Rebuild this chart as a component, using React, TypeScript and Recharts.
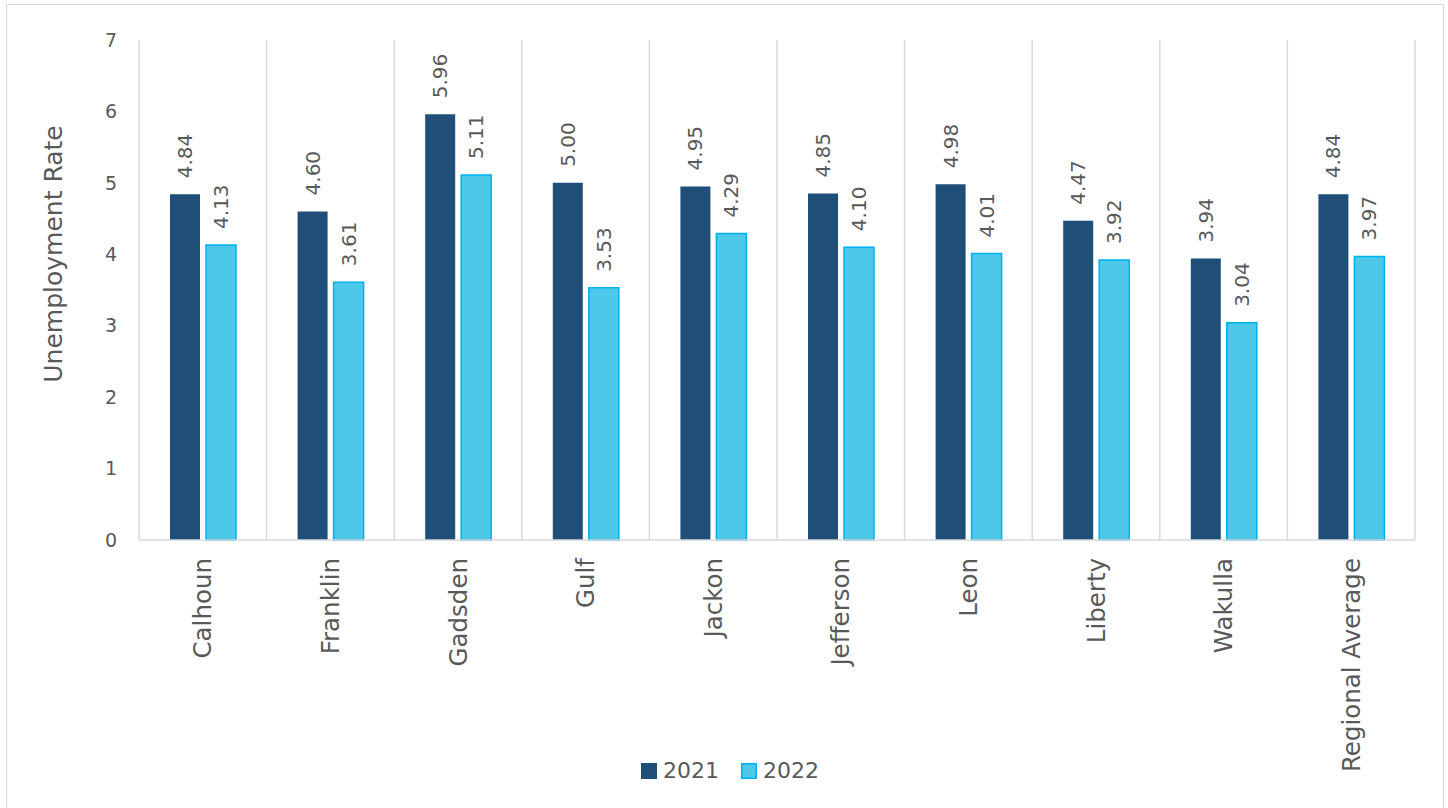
import React from "react";
import { BarChart, Bar, XAxis, YAxis, CartesianGrid, Legend, LabelList } from "recharts";

const categories = ["Calhoun", "Franklin", "Gadsden", "Gulf", "Jackon", "Jefferson", "Leon", "Liberty", "Wakulla", "Regional Average"];
const rate2021 = [4.84, 4.6, 5.96, 5.0, 4.95, 4.85, 4.98, 4.47, 3.94, 4.84];
const rate2022 = [4.13, 3.61, 5.11, 3.53, 4.29, 4.1, 4.01, 3.92, 3.04, 3.97];
const yTicks = [0, 1, 2, 3, 4, 5, 6, 7];

const data = categories.map((name, i) => ({ name, y2021: rate2021[i], y2022: rate2022[i] }));

const FONT = "'DejaVu Sans', sans-serif";
const TEXT = "#595959";
const GRID = "#D9D9D9";
const C2021 = "#1F4E79";
const C2022 = "#4DC8E8";
const C2022_EDGE = "#00B0F0";

const ValueLabel = (props: any) => {
  const { x, y, width, value } = props;
  const cx = Number(x) + Number(width) / 2;
  const ty = Number(y) - 16;
  return (
    <text
      x={cx}
      y={ty}
      transform={`rotate(-90, ${cx}, ${ty})`}
      textAnchor="start"
      dominantBaseline="central"
      fontFamily={FONT}
      fontSize={20}
      fill={TEXT}
    >
      {Number(value).toFixed(2)}
    </text>
  );
};

const CatTick = (props: any) => {
  const { x, y, payload } = props;
  const ty = Number(y) + 10;
  return (
    <text
      x={x}
      y={ty}
      transform={`rotate(-90, ${x}, ${ty})`}
      textAnchor="end"
      dominantBaseline="central"
      fontFamily={FONT}
      fontSize={24.5}
      fill={TEXT}
    >
      {payload.value}
    </text>
  );
};

const gridGen = (props: any) => {
  const off = props.offset;
  const n = categories.length;
  const pts: number[] = [];
  for (let i = 0; i <= n; i++) pts.push(off.left + (i * off.width) / n);
  return pts;
};

const LegendContent = (props: any) => {
  const items = props.payload || [];
  return (
    <div style={{ display: "flex", justifyContent: "center", alignItems: "center", gap: 22, fontFamily: FONT, fontSize: 22, color: TEXT }}>
      {items.map((it: any) => (
        <div key={it.value} style={{ display: "flex", alignItems: "center", gap: 6 }}>
          <svg width={16} height={16}>
            <rect
              x={0.75}
              y={0.75}
              width={14.5}
              height={14.5}
              fill={it.value === "2021" ? C2021 : C2022}
              stroke={it.value === "2021" ? C2021 : C2022_EDGE}
              strokeWidth={1.5}
            />
          </svg>
          <span>{it.value}</span>
        </div>
      ))}
    </div>
  );
};

export default function App() {
  return (
    <div style={{ position: "fixed", left: 0, top: 0, width: 1448, height: 808, background: "#fff", overflow: "hidden" }}>
      <div style={{ position: "absolute", left: 6, top: 4, width: 1436, height: 830, border: `1px solid ${GRID}` }} />
      <BarChart
        width={1448}
        height={808}
        data={data}
        margin={{ top: 40, right: 33, bottom: 0, left: 0 }}
        barCategoryGap="24%"
        barGap={6}
      >
        <CartesianGrid horizontal={false} vertical stroke={GRID} strokeWidth={1.5} verticalCoordinatesGenerator={gridGen} />
        <XAxis
          dataKey="name"
          height={218}
          axisLine={{ stroke: GRID, strokeWidth: 1.5 }}
          tickLine={false}
          tick={<CatTick />}
          interval={0}
        />
        <YAxis
          width={139}
          domain={[0, 7]}
          ticks={yTicks}
          axisLine={false}
          tickLine={false}
          tickMargin={16}
          tick={{ fill: TEXT, fontSize: 19, fontFamily: FONT }}
          label={{
            value: "Unemployment Rate",
            angle: -90,
            position: "insideLeft",
            dx: 48,
            dy: -36,
            style: { fill: TEXT, fontSize: 25, fontFamily: FONT, textAnchor: "middle" },
          }}
        />
        <Legend
          verticalAlign="bottom"
          align="center"
          height={50}
          wrapperStyle={{ left: 0, width: 1460 }}
          content={<LegendContent />}
        />
        <Bar dataKey="y2021" name="2021" fill={C2021} barSize={30} isAnimationActive={false}>
          <LabelList dataKey="y2021" content={<ValueLabel />} />
        </Bar>
        <Bar dataKey="y2022" name="2022" fill={C2022} stroke={C2022_EDGE} strokeWidth={1.5} barSize={30} isAnimationActive={false}>
          <LabelList dataKey="y2022" content={<ValueLabel />} />
        </Bar>
      </BarChart>
    </div>
  );
}
